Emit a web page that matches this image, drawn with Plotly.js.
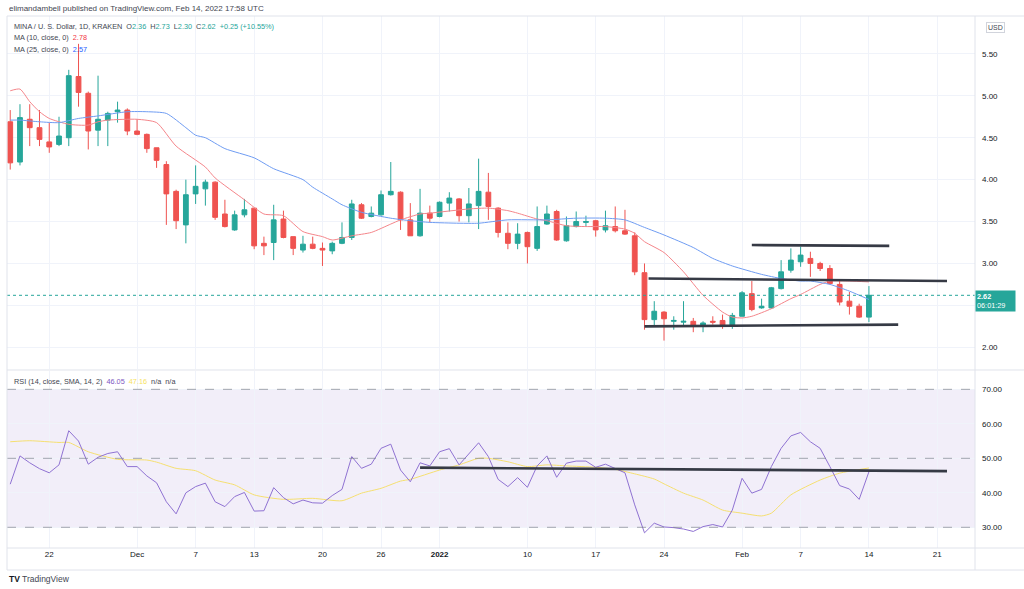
<!DOCTYPE html>
<html><head><meta charset="utf-8">
<script src="https://cdn.plot.ly/plotly-3.0.1.min.js"></script>
<style>html,body{margin:0;padding:0;background:#fff;overflow:hidden}#chart{width:1024px;height:589px}</style>
</head><body><div id="chart"></div>
<script>
const dates = [
'2021-11-18','2021-11-19','2021-11-20','2021-11-21','2021-11-22','2021-11-23','2021-11-24','2021-11-25','2021-11-26','2021-11-27','2021-11-28','2021-11-29','2021-11-30',
'2021-12-01','2021-12-02','2021-12-03','2021-12-04','2021-12-05','2021-12-06','2021-12-07','2021-12-08','2021-12-09','2021-12-10','2021-12-11','2021-12-12','2021-12-13','2021-12-14','2021-12-15','2021-12-16','2021-12-17','2021-12-18','2021-12-19','2021-12-20','2021-12-21','2021-12-22','2021-12-23','2021-12-24','2021-12-25','2021-12-26','2021-12-27','2021-12-28','2021-12-29','2021-12-30','2021-12-31',
'2022-01-01','2022-01-02','2022-01-03','2022-01-04','2022-01-05','2022-01-06','2022-01-07','2022-01-08','2022-01-09','2022-01-10','2022-01-11','2022-01-12','2022-01-13','2022-01-14','2022-01-15','2022-01-16','2022-01-17','2022-01-18','2022-01-19','2022-01-20','2022-01-21','2022-01-22','2022-01-23','2022-01-24','2022-01-25','2022-01-26','2022-01-27','2022-01-28','2022-01-29','2022-01-30','2022-01-31',
'2022-02-01','2022-02-02','2022-02-03','2022-02-04','2022-02-05','2022-02-06','2022-02-07','2022-02-08','2022-02-09','2022-02-10','2022-02-11','2022-02-12','2022-02-13','2022-02-14'];

const openP = [4.69,4.21,4.72,4.62,4.45,4.42,4.50,5.23,5.03,4.59,4.71,4.81,4.83,
4.58,4.54,4.38,4.18,3.86,3.46,3.83,3.89,3.97,3.59,3.40,3.58,3.66,3.24,3.25,3.53,3.32,3.16,3.23,3.18,3.15,3.24,3.31,3.70,3.56,3.58,3.82,3.85,3.52,3.33,3.60,
3.56,3.72,3.77,3.57,3.69,3.85,3.66,3.36,3.24,3.37,3.18,3.47,3.62,3.27,3.44,3.49,3.51,3.40,3.44,3.39,3.33,2.89,2.33,2.42,2.31,2.30,2.31,2.26,2.31,2.32,2.26,
2.37,2.64,2.47,2.47,2.70,2.92,3.02,3.06,3.00,2.94,2.75,2.55,2.49,2.36];
const highP = [4.83,4.90,4.90,4.83,4.68,4.75,5.31,5.62,5.05,5.24,4.81,4.93,4.85,
4.72,4.55,4.38,4.22,3.88,4.00,4.17,4.00,3.98,3.76,3.63,3.77,3.66,3.32,3.70,3.63,3.32,3.33,3.32,3.25,3.26,3.49,3.76,3.72,3.68,3.87,4.21,3.86,3.72,3.89,3.69,
3.74,3.85,3.78,3.90,4.25,4.08,3.67,3.49,3.48,3.38,3.68,3.69,3.64,3.56,3.62,3.57,3.52,3.63,3.68,3.64,3.37,3.00,2.55,2.43,2.37,2.55,2.35,2.31,2.37,2.39,2.41,
2.67,2.79,2.58,2.72,3.04,3.18,3.20,3.14,3.02,2.98,2.79,2.66,2.52,2.73];
const lowP = [4.12,4.17,4.40,4.40,4.32,4.40,4.40,4.87,4.36,4.40,4.40,4.68,4.53,
4.53,4.32,4.14,3.46,3.41,3.24,3.71,3.69,3.52,3.43,3.39,3.55,3.17,3.10,3.04,3.30,3.10,3.13,3.17,2.97,3.11,3.23,3.28,3.53,3.55,3.57,3.81,3.40,3.33,3.32,3.49,
3.55,3.62,3.50,3.49,3.41,3.52,3.31,3.17,3.17,3.00,3.15,3.46,3.27,3.26,3.43,3.44,3.32,3.37,3.37,3.34,2.86,2.21,2.25,2.08,2.21,2.25,2.18,2.18,2.27,2.22,2.22,
2.37,2.43,2.46,2.46,2.69,2.89,2.96,2.84,2.91,2.75,2.50,2.39,2.35,2.30];
const closeP = [4.20,4.74,4.62,4.48,4.39,4.52,5.24,5.04,4.58,4.72,4.79,4.83,4.58,
4.54,4.37,4.23,3.83,3.51,3.82,3.92,3.97,3.55,3.44,3.58,3.64,3.21,3.21,3.52,3.31,3.18,3.23,3.18,3.16,3.24,3.31,3.71,3.54,3.60,3.82,3.86,3.52,3.33,3.60,3.54,
3.73,3.78,3.57,3.71,3.86,3.68,3.37,3.24,3.35,3.20,3.44,3.59,3.28,3.45,3.50,3.50,3.40,3.45,3.39,3.35,2.90,2.33,2.43,2.34,2.32,2.31,2.25,2.29,2.30,2.26,2.38,
2.65,2.45,2.49,2.71,2.90,3.04,3.10,3.00,2.94,2.76,2.54,2.49,2.36,2.62];

const ma10Dates = ['2021-11-18','2021-11-19','2021-11-20','2021-11-21','2021-11-22','2021-11-24','2021-11-26','2021-11-27','2021-11-28','2021-12-01','2021-12-03','2021-12-05','2021-12-08','2021-12-09','2021-12-12','2021-12-14','2021-12-16','2021-12-18','2021-12-20','2021-12-21','2021-12-23','2021-12-25','2021-12-27','2021-12-28','2021-12-30','2021-12-31','2022-01-04','2022-01-06','2022-01-08','2022-01-09','2022-01-11','2022-01-12','2022-01-14','2022-01-16','2022-01-18','2022-01-20','2022-01-21','2022-01-22','2022-01-24','2022-01-26','2022-01-28','2022-01-30','2022-01-31','2022-02-01','2022-02-02','2022-02-04','2022-02-06','2022-02-07','2022-02-09','2022-02-10','2022-02-12','2022-02-14'];
const ma10Vals = [5.06,5.08,4.93,4.81,4.73,4.66,4.65,4.69,4.71,4.72,4.68,4.40,4.15,4.02,3.76,3.59,3.57,3.38,3.32,3.28,3.33,3.37,3.47,3.52,3.59,3.60,3.65,3.66,3.63,3.60,3.53,3.51,3.45,3.44,3.44,3.41,3.36,3.26,3.13,2.90,2.62,2.42,2.36,2.35,2.37,2.46,2.58,2.63,2.75,2.79,2.79,2.78];

const ma25Dates = ['2021-11-18','2021-11-19','2021-11-21','2021-11-23','2021-11-25','2021-11-27','2021-11-30','2021-12-02','2021-12-04','2021-12-06','2021-12-07','2021-12-08','2021-12-10','2021-12-13','2021-12-15','2021-12-18','2021-12-19','2021-12-21','2021-12-22','2021-12-24','2021-12-27','2021-12-29','2021-12-31','2022-01-03','2022-01-05','2022-01-08','2022-01-12','2022-01-15','2022-01-18','2022-01-20','2022-01-22','2022-01-24','2022-01-27','2022-01-29','2022-01-31','2022-02-03','2022-02-05','2022-02-07','2022-02-08','2022-02-10','2022-02-12','2022-02-14'];
const ma25Vals = [4.71,4.71,4.69,4.68,4.73,4.76,4.81,4.81,4.79,4.62,4.53,4.50,4.37,4.26,4.13,4.00,3.91,3.77,3.70,3.61,3.54,3.51,3.49,3.48,3.48,3.52,3.52,3.54,3.54,3.52,3.43,3.34,3.19,3.06,2.97,2.87,2.82,2.79,2.79,2.75,2.67,2.57];

const rsiVals = [42.5,50.7,48.7,47.0,45.8,48.1,58.0,55.0,48.3,50.3,51.4,51.9,47.6,
47.6,44.9,42.9,37.4,33.9,40.0,41.8,42.8,37.4,36.0,38.9,40.1,34.7,34.8,41.5,38.6,36.8,37.9,37.1,37.0,39.2,41.0,50.5,47.1,48.3,52.9,54.1,46.6,43.2,48.7,47.8,
51.9,52.8,48.1,51.4,54.5,50.5,43.9,41.8,44.4,41.6,47.8,50.7,44.5,48.6,49.2,49.2,47.4,48.3,47.0,45.8,36.5,28.4,31.2,30.1,29.9,29.5,28.8,30.2,30.8,30.1,35.0,
44.2,39.9,41.0,47.6,52.9,56.5,57.5,54.8,52.9,47.6,42.1,41.1,38.1,46.1];

const smaDates = ['2021-11-18','2021-11-20','2021-11-23','2021-11-24','2021-11-26','2021-11-29','2021-12-02','2021-12-03','2021-12-05','2021-12-07','2021-12-09','2021-12-11','2021-12-13','2021-12-16','2021-12-19','2021-12-22','2021-12-24','2021-12-26','2021-12-28','2021-12-29','2022-01-01','2022-01-03','2022-01-05','2022-01-06','2022-01-08','2022-01-10','2022-01-12','2022-01-14','2022-01-17','2022-01-19','2022-01-21','2022-01-23','2022-01-24','2022-01-26','2022-01-28','2022-01-30','2022-02-01','2022-02-03','2022-02-04','2022-02-06','2022-02-09','2022-02-11','2022-02-14'];
const smaVals = [54.8,55.1,54.6,54.6,51.9,49.7,49.5,48.9,47.1,46.4,43.7,42.3,39.4,38.1,38.4,37.7,39.9,41.3,43.4,43.9,46.6,48.1,50.0,50.0,49.0,47.6,48.1,47.8,47.4,46.8,45.5,44.0,42.6,39.9,37.9,35.0,34.1,33.3,34.1,39.4,43.7,45.7,47.2];

// hand-drawn trend lines (start date, end date, start value, end value)
const drawStart = ['2022-02-02','2022-01-22 10:00','2022-01-22'];
const drawEnd = ['2022-02-16 02:00','2022-02-22','2022-02-17'];
const drawStartVal = [3.22,2.82,2.25];
const drawEndVal = [3.21,2.79,2.27];
const rsiDrawStart = ['2021-12-30'], rsiDrawEnd = ['2022-02-22'];
const rsiDrawStartVal = [47.3], rsiDrawEndVal = [46.3];

const tickDates = ['2021-11-22','2021-12-01','2021-12-07','2021-12-13','2021-12-20','2021-12-26','2022-01-01','2022-01-10','2022-01-17','2022-01-24','2022-02-01','2022-02-07','2022-02-14','2022-02-21'];
const tickLabels = ['22','Dec','7','13','20','26','<b>2022</b>','10','17','24','Feb','7','14','21'];
const priceTicks = [2.0,2.5,3.0,3.5,4.0,4.5,5.0,5.5];
const priceLabels = ['2.00','','3.00','3.50','4.00','4.50','5.00','5.50'];  // 2.50 hidden behind the price tag
const rsiTicks = [30,40,50,60,70];
const rsiLabels = ['30.00','40.00','50.00','60.00','70.00'];
const rsiLevels = [30,50,70];

const UP='#26a69a', DN='#ef5350', FONT='Liberation Sans, Arial, sans-serif';
const traces = [];
traces.push({type:'candlestick', x:dates, open:openP, high:highP, low:lowP, close:closeP, xaxis:'x', yaxis:'y',
  increasing:{line:{color:UP,width:1},fillcolor:UP}, decreasing:{line:{color:DN,width:1},fillcolor:DN}, whiskerwidth:0, hoverinfo:'skip', showlegend:false});
traces.push({type:'scatter',mode:'lines',x:ma10Dates,y:ma10Vals,line:{color:'#f4858a',width:1,shape:'spline',smoothing:0.6},yaxis:'y',hoverinfo:'skip',showlegend:false});
traces.push({type:'scatter',mode:'lines',x:ma25Dates,y:ma25Vals,line:{color:'#6f9cf2',width:1,shape:'spline',smoothing:0.6},yaxis:'y',hoverinfo:'skip',showlegend:false});
for(let i=0;i<drawStart.length;i++){
  traces.push({type:'scatter',mode:'lines',x:[drawStart[i],drawEnd[i]],y:[drawStartVal[i],drawEndVal[i]],line:{color:'#363a45',width:2.6},yaxis:'y',hoverinfo:'skip',showlegend:false});
}
traces.push({type:'scatter',mode:'lines',x:smaDates,y:smaVals,line:{color:'#f5df70',width:1,shape:'spline',smoothing:0.6},xaxis:'x',yaxis:'y2',hoverinfo:'skip',showlegend:false});
traces.push({type:'scatter',mode:'lines',x:dates,y:rsiVals,line:{color:'#8f72d2',width:1},xaxis:'x',yaxis:'y2',hoverinfo:'skip',showlegend:false});
for(let i=0;i<rsiDrawStart.length;i++){
  traces.push({type:'scatter',mode:'lines',x:[rsiDrawStart[i],rsiDrawEnd[i]],y:[rsiDrawStartVal[i],rsiDrawEndVal[i]],line:{color:'#363a45',width:2.6},xaxis:'x',yaxis:'y2',hoverinfo:'skip',showlegend:false});
}

const shapes = [];
shapes.push({type:'rect',xref:'paper',yref:'y2',x0:0,x1:1,y0:30,y1:70,fillcolor:'rgba(126,87,194,0.1)',line:{width:0},layer:'below'});
rsiLevels.forEach(v=>shapes.push({type:'line',xref:'paper',yref:'y2',x0:0,x1:1,y0:v,y1:v,line:{color:'rgba(120,123,134,0.65)',width:1,dash:'dash'}}));
shapes.push({type:'line',xref:'paper',yref:'y',x0:0,x1:1,y0:closeP[closeP.length-1],y1:closeP[closeP.length-1],line:{color:UP,width:1,dash:'dot'}});
// frame lines
const L='#e0e3eb';
shapes.push({type:'line',xref:'paper',yref:'paper',x0:0,x1:1.0506,y0:1,y1:1,line:{color:L,width:1}});
shapes.push({type:'line',xref:'paper',yref:'paper',x0:0,x1:1.0506,y0:0.3346,y1:0.3346,line:{color:L,width:1}});
shapes.push({type:'line',xref:'paper',yref:'paper',x0:0,x1:1.0506,y0:0,y1:0,line:{color:L,width:1}});
shapes.push({type:'line',xref:'paper',yref:'paper',x0:0,x1:1.0506,y0:-0.0414,y1:-0.0414,line:{color:L,width:1}});
shapes.push({type:'line',xref:'paper',yref:'paper',x0:1,x1:1,y0:-0.0414,y1:1,line:{color:L,width:1}});
shapes.push({type:'line',xref:'paper',yref:'paper',x0:0,x1:0,y0:-0.0414,y1:1,line:{color:L,width:1}});

const n = closeP.length-1;
const teal = s=>'<span style="color:'+UP+'">'+s+'</span>';
const LF = 7.3;
const annotations = [
 {xref:'paper',yref:'paper',x:0,y:1.015,xanchor:'left',yanchor:'middle',showarrow:false,font:{family:FONT,size:8,color:'#434651'},
  text:'elimandambell published on TradingView.com, Feb 14, 2022 17:58 UTC'},
 {xref:'paper',yref:'paper',x:0.0052,y:0.9799,xanchor:'left',yanchor:'middle',showarrow:false,font:{family:FONT,size:LF,color:'#434651'},
  text:'MINA / U. S. Dollar, 1D, KRAKEN  O'+teal(openP[n].toFixed(2))+'  H'+teal(highP[n].toFixed(2))+'  L'+teal(lowP[n].toFixed(2))+'  C'+teal(closeP[n].toFixed(2))+'  '+teal('+0.25 (+10.55%)')},
 {xref:'paper',yref:'paper',x:0.0052,y:0.9592,xanchor:'left',yanchor:'middle',showarrow:false,font:{family:FONT,size:LF,color:'#434651'},
  text:'MA (10, close, 0)  <span style="color:#f23645">'+ma10Vals[ma10Vals.length-1].toFixed(2)+'</span>'},
 {xref:'paper',yref:'paper',x:0.0052,y:0.9374,xanchor:'left',yanchor:'middle',showarrow:false,font:{family:FONT,size:LF,color:'#434651'},
  text:'MA (25, close, 0)  <span style="color:#2962ff">'+ma25Vals[ma25Vals.length-1].toFixed(2)+'</span>'},
 {xref:'paper',yref:'paper',x:0.0052,y:0.3139,xanchor:'left',yanchor:'middle',showarrow:false,font:{family:FONT,size:LF,color:'#434651'},
  text:'RSI (14, close, SMA, 14, 2)  <span style="color:#7e57c2">46.05</span>  <span style="color:#f7e35f">47.16</span>  n/a  n/a'},
 {xref:'paper',yref:'paper',x:1.0207,y:0.979,xanchor:'center',yanchor:'middle',showarrow:false,font:{family:FONT,size:7,color:'#434651'},
  text:'USD',bordercolor:'#d1d4dc',borderwidth:1,borderpad:1,bgcolor:'#fff'},
 {xref:'paper',yref:'y',x:1,y:closeP[n],xanchor:'left',yanchor:'top',xshift:0,yshift:5,showarrow:false,align:'left',
  width:37,height:18,valign:'middle',font:{family:FONT,size:7.3,color:'#fff'},
  text:'<b>'+closeP[n].toFixed(2)+'</b><br>06:01:29',bgcolor:UP,borderpad:1},
 {xref:'paper',yref:'paper',x:0,y:-0.058,xanchor:'left',yanchor:'middle',showarrow:false,font:{family:FONT,size:8.5,color:'#131722'},
  text:'<b>TV</b> <span style="color:#434651">TradingView</span>'}
];

const layout = {
  width:1024, height:589, margin:{l:7,r:49,t:16,b:41},
  paper_bgcolor:'#fff', plot_bgcolor:'#fff', showlegend:false,
  font:{family:FONT,size:8,color:'#131722'},
  xaxis:{type:'date', range:['2021-11-17 16:05','2022-02-24 20:53'], anchor:'y2', tickmode:'array', tickvals:tickDates, ticktext:tickLabels,
    showgrid:true, gridcolor:'#f0f3fa', zeroline:false, showline:false, ticks:'', rangeslider:{visible:false}, tickfont:{size:8,color:'#131722'}, fixedrange:true},
  yaxis:{domain:[0.336,1], side:'right', range:[1.738,5.952], tickmode:'array', tickvals:priceTicks, ticktext:priceLabels,
    showgrid:true, gridcolor:'#f0f3fa', zeroline:false, showline:false, ticks:'', ticklabelstandoff:6, tickfont:{size:8,color:'#131722'}},
  yaxis2:{domain:[0,0.333], side:'right', range:[24.0,75.36], tickmode:'array', tickvals:rsiTicks, ticktext:rsiLabels,
    showgrid:true, gridcolor:'#f0f3fa', zeroline:false, showline:false, ticks:'', ticklabelstandoff:6, tickfont:{size:8,color:'#131722'}},
  shapes:shapes, annotations:annotations
};
Plotly.newPlot('chart', traces, layout, {displayModeBar:false, staticPlot:true});
</script>
</body></html>
